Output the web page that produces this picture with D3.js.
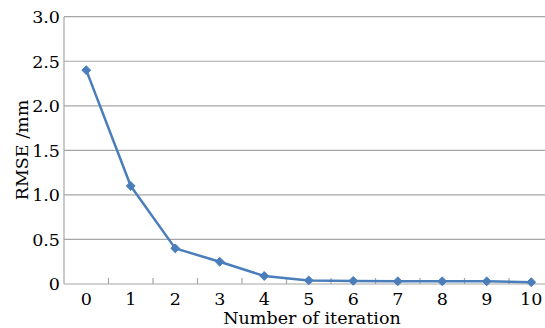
<!DOCTYPE html>
<html><head><meta charset="utf-8">
<script src="https://cdn.jsdelivr.net/npm/d3@7"></script>
<style>html,body{margin:0;padding:0;background:#fff;overflow:hidden}</style>
</head><body>
<svg id="c" width="545" height="328"></svg>
<script>
const categories = ["0","1","2","3","4","5","6","7","8","9","10"];
const rmse = [2.4, 1.1, 0.4, 0.25, 0.09, 0.04, 0.035, 0.03, 0.03, 0.03, 0.02];
const yTicks = [0, 0.5, 1.0, 1.5, 2.0, 2.5, 3.0];
const yTickLabels = ["0","0.5","1.0","1.5","2.0","2.5","3.0"];
const xTitle = "Number of iteration";
const yTitle = "RMSE /mm";

(function () {
const svg = d3.select("#c");
const font = "'DejaVu Serif', serif";
const fs = 17.5;
const mL = 64, mR = 553.5, mT = 16.7, mB = 284;
const x = d3.scaleBand().domain(categories).range([mL, mR]);
const y = d3.scaleLinear().domain([0, 3]).range([mB, mT]);

svg.append("g").selectAll("line").data(yTicks.filter(d => d > 0)).join("line")
  .attr("x1", mL).attr("x2", 545).attr("y1", d => y(d)).attr("y2", d => y(d))
  .attr("stroke", "#a6a6a6").attr("stroke-width", 1.2);

svg.append("line").attr("x1", mL).attr("x2", mL).attr("y1", mT).attr("y2", mB)
  .attr("stroke", "#a6a6a6").attr("stroke-width", 1.2);
svg.append("line").attr("x1", mL).attr("x2", 545).attr("y1", mB).attr("y2", mB)
  .attr("stroke", "#a6a6a6").attr("stroke-width", 1.2);
svg.append("g").selectAll("line").data(categories.slice(1)).join("line")
  .attr("x1", d => x(d)).attr("x2", d => x(d)).attr("y1", mB).attr("y2", mB - 6)
  .attr("stroke", "#a6a6a6").attr("stroke-width", 1.2);

svg.append("g").selectAll("text").data(yTicks).join("text")
  .attr("x", 60).attr("y", d => y(d) + 6.3)
  .attr("text-anchor", "end").attr("font-family", font).attr("font-size", fs)
  .attr("fill", "#000").text((d, i) => yTickLabels[i]);

svg.append("g").selectAll("text").data(categories).join("text")
  .attr("x", d => x(d) + x.bandwidth() / 2).attr("y", 304.5)
  .attr("text-anchor", "middle").attr("font-family", font).attr("font-size", fs)
  .attr("fill", "#000").text(d => d);

svg.append("text").attr("x", 312).attr("y", 323.5).attr("text-anchor", "middle")
  .attr("font-family", font).attr("font-size", fs).attr("fill", "#000").text(xTitle);
svg.append("text").attr("transform", "translate(27.5,150) rotate(-90)").attr("text-anchor", "middle")
  .attr("font-family", font).attr("font-size", fs).attr("fill", "#000").text(yTitle);

const cx = (d, i) => x(categories[i]) + x.bandwidth() / 2;
svg.append("path").datum(rmse)
  .attr("d", d3.line().x(cx).y(d => y(d)))
  .attr("fill", "none").attr("stroke", "#4a7ebb").attr("stroke-width", 2.5).attr("stroke-linejoin", "round");
svg.append("g").selectAll("path").data(rmse).join("path")
  .attr("transform", (d, i) => `translate(${cx(d, i)},${y(d)})`)
  .attr("d", d3.symbol(d3.symbolDiamond2, 50)())
  .attr("fill", "#4a7ebb").attr("stroke", "#4a7ebb").attr("stroke-width", 1);
})();
</script>
</body></html>
